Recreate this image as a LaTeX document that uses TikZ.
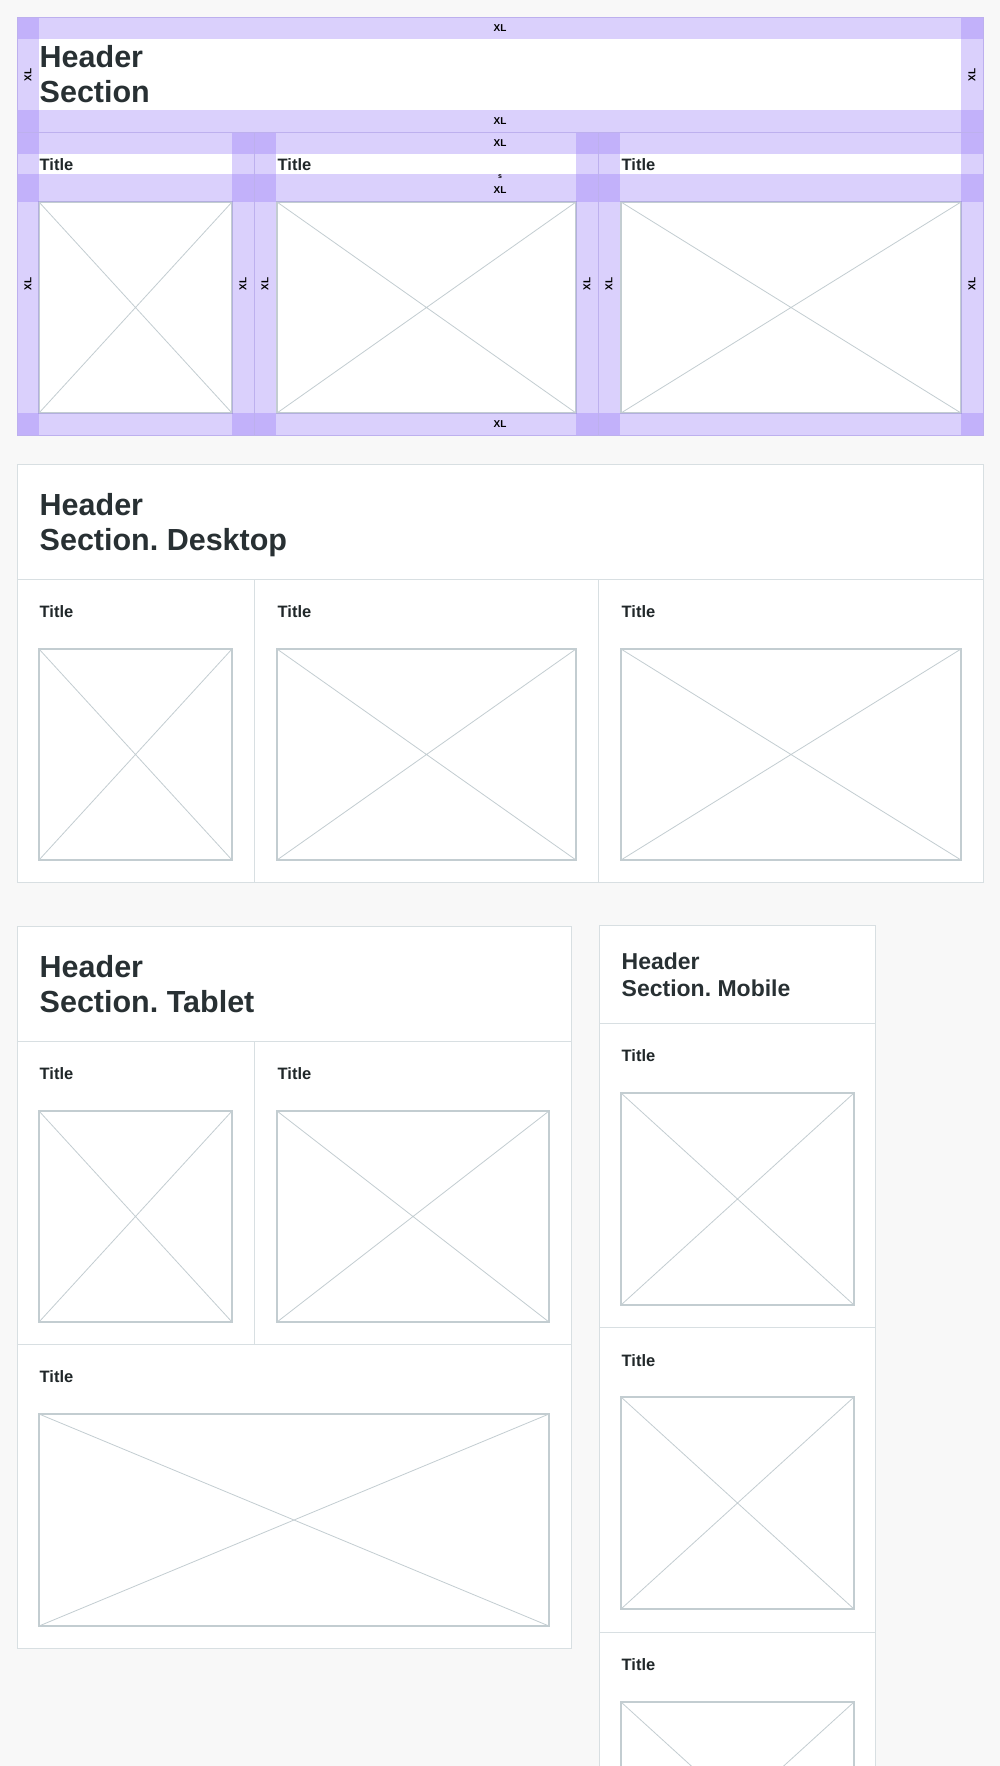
\documentclass[tikz,border=0pt]{standalone}
\usepackage{fontspec}
\setmainfont{Liberation Sans}
\frenchspacing
\definecolor{bg}{HTML}{F8F8F8}
\definecolor{band}{HTML}{9576F9}
\definecolor{bandline}{HTML}{BDB0EE}
\definecolor{secline}{HTML}{D8DFE2}
\definecolor{phline}{HTML}{C3CDD1}
\definecolor{hdr}{HTML}{283033}
\newcommand\phbox[4]{%
  \draw[phframe] (#1,#2) rectangle (#3,#4);
  \draw[phcross] (#1,#2) -- (#3,#4) (#1,#4) -- (#3,#2);}
\newcommand\topcol[2]{%
  \fill[bandfill] (#1,132) rectangle (#2,154);
  \fill[bandfill] (#1,174) rectangle (#2,202);
  \fill[bandfill] (#1,413) rectangle (#2,435);
  \fill[bandfill] (#1,132) rectangle ({#1+22},435);
  \fill[bandfill] ({#2-22},132) rectangle (#2,435);
  \draw[bandbox] (#1,132) rectangle (#2,435);}
\begin{document}
\begin{tikzpicture}[x=1pt,y=-1pt,
  bandfill/.style={fill=band,fill opacity=0.34},
  bandbox/.style={draw=bandline,line width=0.6pt},
  phframe/.style={draw=phline,line width=1.2pt,fill=white},
  phcross/.style={draw=phline,line width=0.8pt},
  section/.style={draw=secline,line width=1pt,fill=white},
  divider/.style={draw=secline,line width=1pt},
  xl/.style={font=\bfseries\fontsize{10}{10}\selectfont,inner sep=0,text=black},
  xls/.style={font=\bfseries\fontsize{7}{7}\selectfont,inner sep=0,text=black},
  bighead/.style={font=\bfseries\fontsize{30.5}{30.5}\selectfont,inner sep=0,anchor=base west,text=hdr},
  mobhead/.style={font=\bfseries\fontsize{23}{23}\selectfont,inner sep=0,anchor=base west,text=hdr},
  ttl/.style={font=\bfseries\fontsize{16.5}{16.5}\selectfont,inner sep=0,anchor=base west,text=hdr!80!black}]
\fill[bg] (0,0) rectangle (1000,1766);
\useasboundingbox (0,0) rectangle (1000,1766);
\begin{scope}
\clip (0,0) rectangle (1000,1766);

% ===== Top annotated section =====
\fill[white] (17,17) rectangle (983,435);
% header bands
\fill[bandfill] (17,17) rectangle (983,39);
\fill[bandfill] (17,110) rectangle (983,132);
\fill[bandfill] (17,17) rectangle (39,132);
\fill[bandfill] (961,17) rectangle (983,132);
\draw[bandbox] (17,17) rectangle (983,132);
% columns
\phbox{39}{202}{232}{413}
\phbox{277}{202}{576}{413}
\phbox{621}{202}{961}{413}
\topcol{17}{254}
\topcol{254}{598}
\topcol{598}{983}

\node[bighead] (th1) at (39.5,68) {Header};
\node[bighead] (th2) at (39.5,103) {Section};
\node[ttl] (tt1) at (39.5,170) {Title};
\node[ttl] (tt2) at (277.5,170) {Title};
\node[ttl] (tt3) at (621.5,170) {Title};

\node[xl] (xa) at (500,28) {XL};
\node[xl] (xb) at (500,121) {XL};
\node[xl] (xc) at (500,143) {XL};
\node[xls] (xs) at (500,176.5) {s};
\node[xl] (xd) at (500,190) {XL};
\node[xl] (xe) at (500,424) {XL};
\node[xl,rotate=90] (va) at (28,75) {XL};
\node[xl,rotate=90] (vb) at (972,75) {XL};
\node[xl,rotate=90] (vc) at (28,284) {XL};
\node[xl,rotate=90] (vd) at (243,284) {XL};
\node[xl,rotate=90] (ve) at (265,284) {XL};
\node[xl,rotate=90] (vf) at (587,284) {XL};
\node[xl,rotate=90] (vg) at (609,284) {XL};
\node[xl,rotate=90] (vh) at (972,284) {XL};

% ===== Desktop =====
\draw[section] (17,464) rectangle (983,882);
\draw[divider] (17,579) -- (983,579);
\draw[divider] (254,579) -- (254,882);
\draw[divider] (598,579) -- (598,882);
\node[bighead] (dh1) at (39.5,515) {Header};
\node[bighead] (dh2) at (39.5,550) {Section. Desktop};
\node[ttl] (dt1) at (39.5,617) {Title};
\node[ttl] (dt2) at (277.5,617) {Title};
\node[ttl] (dt3) at (621.5,617) {Title};
\phbox{39}{649}{232}{860}
\phbox{277}{649}{576}{860}
\phbox{621}{649}{961}{860}

% ===== Tablet =====
\draw[section] (17,926) rectangle (571,1648);
\draw[divider] (17,1041) -- (571,1041);
\draw[divider] (17,1344) -- (571,1344);
\draw[divider] (254,1041) -- (254,1344);
\node[bighead] (bh1) at (39.5,977) {Header};
\node[bighead] (bh2) at (39.5,1012) {Section. Tablet};
\node[ttl] (bt1) at (39.5,1079) {Title};
\node[ttl] (bt2) at (277.5,1079) {Title};
\node[ttl] (bt3) at (39.5,1382) {Title};
\phbox{39}{1111}{232}{1322}
\phbox{277}{1111}{549}{1322}
\phbox{39}{1414}{549}{1626}

% ===== Mobile =====
\draw[section] (599,925) rectangle (875,1800);
\draw[divider] (599,1023) -- (875,1023);
\draw[divider] (599,1327) -- (875,1327);
\draw[divider] (599,1632) -- (875,1632);
\node[mobhead] (mh1) at (621.5,969) {Header};
\node[mobhead] (mh2) at (621.5,996) {Section. Mobile};
\node[ttl] (mt1) at (621.5,1061) {Title};
\node[ttl] (mt2) at (621.5,1366) {Title};
\node[ttl] (mt3) at (621.5,1670) {Title};
\phbox{621}{1093}{854}{1305}
\phbox{621}{1397}{854}{1609}
\phbox{621}{1702}{854}{1914}
\end{scope}
\end{tikzpicture}
\end{document}
